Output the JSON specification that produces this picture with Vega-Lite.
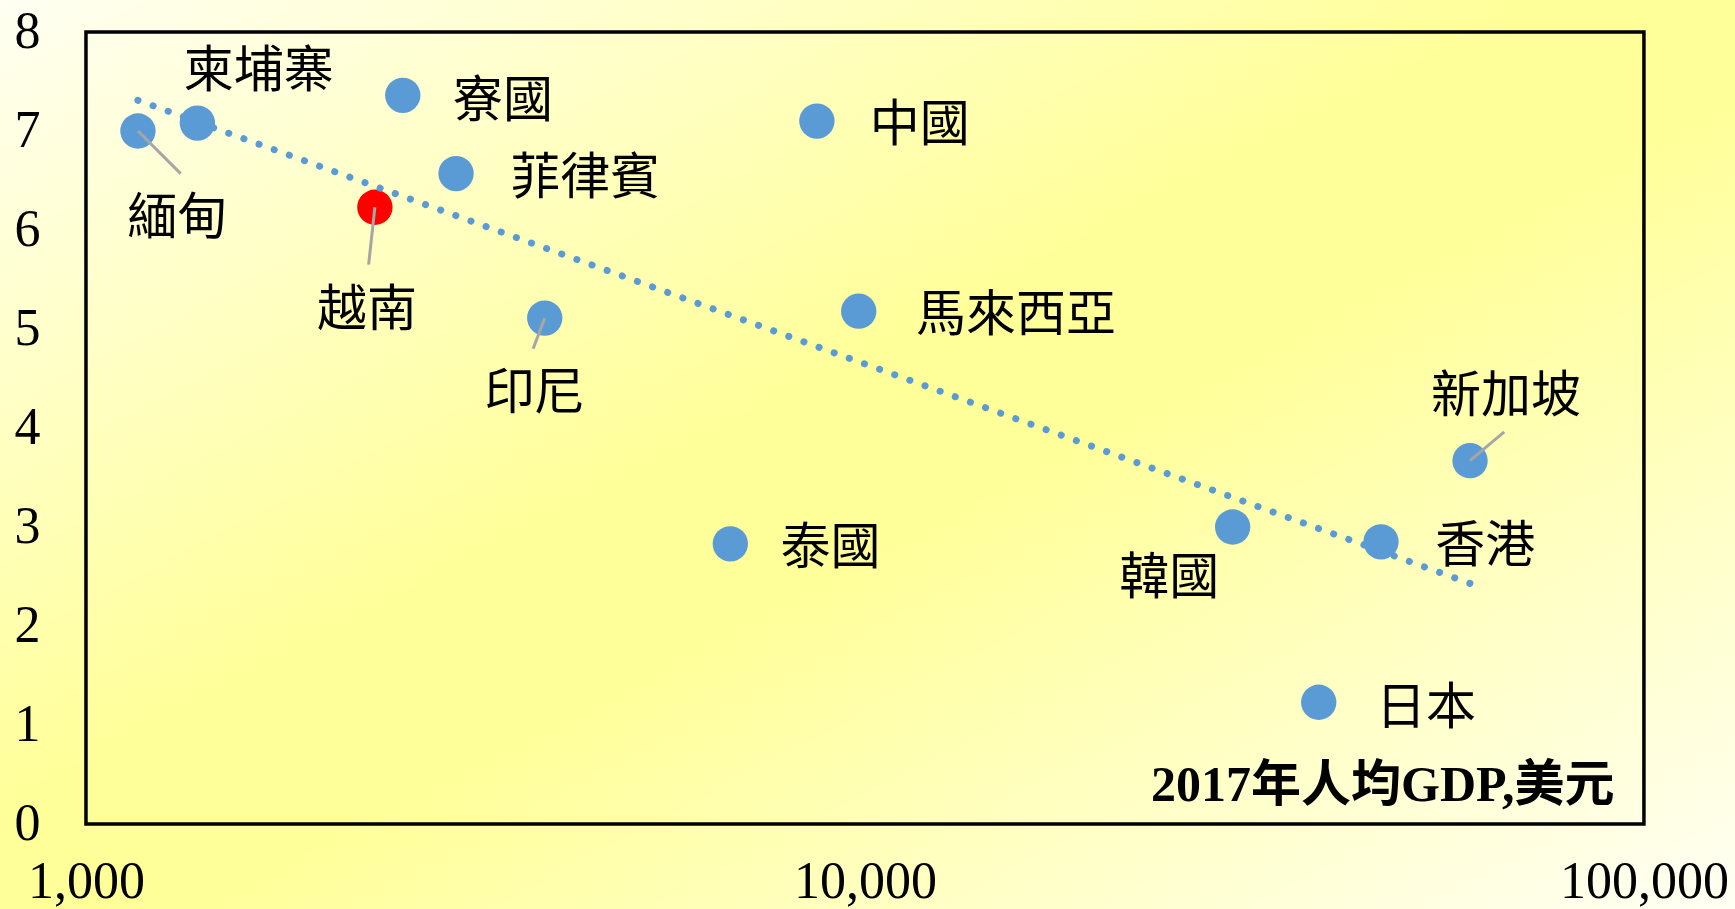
{
  "$schema": "https://vega.github.io/schema/vega-lite/v6.json",
  "width": 1735,
  "height": 909,
  "autosize": {"type": "none"},
  "padding": 0,
  "background": "#FFFFCC",
  "config": {
    "view": {
      "stroke": null,
      "fill": {
        "gradient": "linear",
        "x1": 0, "y1": 0, "x2": 1, "y2": 1,
        "stops": [
          {"offset": 0, "color": "#FFFFF2"},
          {"offset": 0.45, "color": "#FFFF99"},
          {"offset": 0.55, "color": "#FFFF99"},
          {"offset": 1, "color": "#FFFFF4"}
        ]
      }
    },
    "axisX": {
      "zindex": 1,
      "format": ",",
      "offset": -53,
      "labelPadding": 0,
      "labelBaseline": "top",
      "labelFlush": false,
      "labelOverlap": false,
      "labelFont": "Liberation Serif",
      "labelFontSize": 52,
      "labelColor": "#000000",
      "domain": false,
      "ticks": false,
      "grid": false,
      "titleFont": "Liberation Serif, Noto Sans CJK TC",
      "titleFontWeight": "bold",
      "titleFontSize": 50,
      "titleColor": "#000000",
      "titleAlign": "right",
      "titleBaseline": "middle",
      "titleX": 1614,
      "titleY": -71
    },
    "axisY": {
      "zindex": 1,
      "offset": -40,
      "labelPadding": 0,
      "labelFont": "Liberation Serif",
      "labelFontSize": 52,
      "labelColor": "#000000",
      "domain": false,
      "ticks": false,
      "grid": false
    }
  },
  "datasets": {
    "countries": [
      {"country": "緬甸", "gdp": 1166, "growth": 7.0, "type": "normal", "lx": 1310, "ly": 6.15, "leaderX": 1323, "leaderY": 6.57},
      {"country": "柬埔寨", "gdp": 1390, "growth": 7.08, "type": "normal", "lx": 1667, "ly": 7.64, "leaderX": null, "leaderY": null},
      {"country": "寮國", "gdp": 2551, "growth": 7.36, "type": "normal", "lx": 3430, "ly": 7.33, "leaderX": null, "leaderY": null},
      {"country": "菲律賓", "gdp": 2986, "growth": 6.57, "type": "normal", "lx": 4373, "ly": 6.56, "leaderX": null, "leaderY": null},
      {"country": "越南", "gdp": 2349, "growth": 6.23, "type": "highlight", "lx": 2295, "ly": 5.22, "leaderX": 2306, "leaderY": 5.65},
      {"country": "印尼", "gdp": 3881, "growth": 5.11, "type": "normal", "lx": 3765, "ly": 4.38, "leaderX": 3750, "leaderY": 4.8},
      {"country": "中國", "gdp": 8676, "growth": 7.1, "type": "normal", "lx": 11760, "ly": 7.09, "leaderX": null, "leaderY": null},
      {"country": "馬來西亞", "gdp": 9817, "growth": 5.18, "type": "normal", "lx": 15630, "ly": 5.17, "leaderX": null, "leaderY": null},
      {"country": "泰國", "gdp": 6717, "growth": 2.83, "type": "normal", "lx": 9030, "ly": 2.82, "leaderX": null, "leaderY": null},
      {"country": "韓國", "gdp": 29650, "growth": 3.0, "type": "normal", "lx": 24580, "ly": 2.52, "leaderX": null, "leaderY": null},
      {"country": "香港", "gdp": 45970, "growth": 2.85, "type": "normal", "lx": 62540, "ly": 2.84, "leaderX": null, "leaderY": null},
      {"country": "新加坡", "gdp": 59810, "growth": 3.67, "type": "normal", "lx": 66530, "ly": 4.35, "leaderX": 66180, "leaderY": 3.96},
      {"country": "日本", "gdp": 38240, "growth": 1.23, "type": "normal", "lx": 52500, "ly": 1.2, "leaderX": null, "leaderY": null}
    ],
    "trend": [
      {"gdp": 1166, "growth": 7.31},
      {"gdp": 59810, "growth": 2.43}
    ],
    "frame": [
      {"gdp": 1000, "growth": 0, "gdp2": 100000, "growth2": 8}
    ]
  },
  "encoding": {
    "x": {
      "field": "gdp",
      "type": "quantitative",
      "title": "2017年人均GDP,美元",
      "scale": {"type": "log", "domain": [775.6, 130890], "nice": false},
      "axis": {"values": [1000, 10000, 100000]}
    },
    "y": {
      "field": "growth",
      "type": "quantitative",
      "title": null,
      "scale": {"domain": [-0.8586, 8.3232], "nice": false, "zero": false},
      "axis": {"values": [0, 1, 2, 3, 4, 5, 6, 7, 8]}
    }
  },
  "layer": [
    {
      "data": {"name": "frame"},
      "mark": {"type": "rect", "fill": null, "stroke": "#000000", "strokeWidth": 3.5},
      "encoding": {
        "x2": {"field": "gdp2"},
        "y2": {"field": "growth2"}
      }
    },
    {
      "data": {"name": "countries"},
      "transform": [{"filter": "datum.type === 'highlight'"}],
      "mark": {"type": "circle", "size": 1250, "opacity": 1, "color": "#FF0000"}
    },
    {
      "data": {"name": "trend"},
      "mark": {"type": "line", "color": "#5B9BD5", "strokeWidth": 7, "strokeCap": "round", "strokeDash": [0.1, 16]}
    },
    {
      "data": {"name": "countries"},
      "transform": [{"filter": "datum.type === 'normal'"}],
      "mark": {"type": "circle", "size": 1250, "opacity": 1, "color": "#5B9BD5"}
    },
    {
      "data": {"name": "countries"},
      "transform": [{"filter": "datum.leaderX != null"}],
      "mark": {"type": "rule", "color": "#A6A6A6", "strokeWidth": 3},
      "encoding": {
        "x2": {"field": "leaderX"},
        "y2": {"field": "leaderY"}
      }
    },
    {
      "data": {"name": "countries"},
      "mark": {"type": "text", "font": "Noto Sans CJK TC", "fontSize": 50, "align": "center", "baseline": "middle", "dy": 4, "color": "#000000"},
      "encoding": {
        "x": {"field": "lx", "type": "quantitative", "title": "2017年人均GDP,美元", "scale": {"type": "log", "domain": [775.6, 130890], "nice": false}, "axis": {"values": [1000, 10000, 100000]}},
        "y": {"field": "ly", "type": "quantitative", "title": null, "scale": {"domain": [-0.8586, 8.3232], "nice": false, "zero": false}, "axis": {"values": [0, 1, 2, 3, 4, 5, 6, 7, 8]}},
        "text": {"field": "country"}
      }
    }
  ]
}
